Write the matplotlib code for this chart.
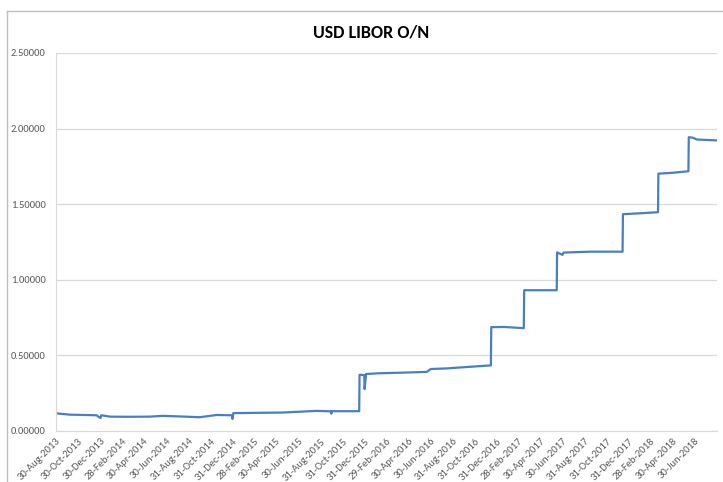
import matplotlib
matplotlib.use('Agg')
import matplotlib.pyplot as plt
from matplotlib.lines import Line2D
import pandas as pd

# values (percent)
dates = ['2013-08-30', '2013-09-20', '2013-10-08', '2013-11-15', '2013-12-20', '2013-12-31',
         '2014-01-02', '2014-01-27', '2014-03-14', '2014-05-16', '2014-06-20', '2014-08-01',
         '2014-10-01', '2014-11-17', '2014-12-30', '2014-12-31', '2015-01-02', '2015-03-02',
         '2015-05-18', '2015-08-20', '2015-09-29', '2015-09-30', '2015-10-01', '2015-12-16',
         '2015-12-17', '2015-12-30', '2015-12-31', '2016-01-04', '2016-02-10', '2016-04-15',
         '2016-06-20', '2016-07-01', '2016-08-15', '2016-10-07', '2016-12-14', '2016-12-15',
         '2017-01-20', '2017-03-15', '2017-03-16', '2017-06-14', '2017-06-15', '2017-06-30',
         '2017-07-03', '2017-09-15', '2017-12-13', '2017-12-14', '2018-02-01', '2018-03-21',
         '2018-03-22', '2018-05-01', '2018-06-13', '2018-06-14', '2018-06-25', '2018-07-06',
         '2018-08-01', '2018-08-31']
rates = [0.117, 0.112, 0.108, 0.106, 0.104, 0.085,
         0.104, 0.095, 0.094, 0.095, 0.100, 0.097,
         0.091, 0.106, 0.104, 0.080, 0.118, 0.120,
         0.122, 0.133, 0.130, 0.115, 0.131, 0.131,
         0.372, 0.370, 0.277, 0.377, 0.382, 0.386,
         0.391, 0.410, 0.414, 0.423, 0.434, 0.687,
         0.688, 0.680, 0.931, 0.931, 1.181, 1.165,
         1.180, 1.186, 1.186, 1.434, 1.440, 1.447,
         1.702, 1.708, 1.718, 1.943, 1.940, 1.928,
         1.925, 1.922]

tick_dates = ['2013-08-30', '2013-10-30', '2013-12-30', '2014-02-28', '2014-04-30', '2014-06-30',
              '2014-08-31', '2014-10-31', '2014-12-31', '2015-02-28', '2015-04-30', '2015-06-30',
              '2015-08-31', '2015-10-31', '2015-12-31', '2016-02-29', '2016-04-30', '2016-06-30',
              '2016-08-31', '2016-10-31', '2016-12-31', '2017-02-28', '2017-04-30', '2017-06-30',
              '2017-08-31', '2017-10-31', '2017-12-31', '2018-02-28', '2018-04-30', '2018-06-30']
tick_labels = [pd.Timestamp(d).strftime('%d-%b-%Y') for d in tick_dates]

y_ticks = [0.0, 0.5, 1.0, 1.5, 2.0, 2.5]

plt.rcParams['font.family'] = ['Carlito', 'Lato', 'DejaVu Sans']

fig = plt.figure(figsize=(7.23, 4.82), dpi=100)
ax = fig.add_axes([56 / 723, 51 / 482, 661 / 723, 378 / 482])

ax.plot(pd.to_datetime(dates), rates, color='#4A7EC4', linewidth=1.6)

ax.set_ylim(0, 2.5)
ax.set_yticks(y_ticks)
ax.set_yticklabels(['%.5f' % v for v in y_ticks])
ax.set_xlim(pd.Timestamp('2013-08-30'), pd.Timestamp('2018-08-31'))
ax.set_xticks(pd.to_datetime(tick_dates))
ax.set_xticklabels(tick_labels, rotation=45, ha='right', va='top', rotation_mode='anchor')

ax.grid(axis='y', color='#D9D9D9', linewidth=0.9)
ax.set_axisbelow(True)
for s in ['top', 'right']:
    ax.spines[s].set_visible(False)
ax.spines['left'].set_color('#D9D9D9')
ax.spines['bottom'].set_color('#D9D9D9')
ax.tick_params(length=0, colors='#595959')
ax.tick_params(axis='x', pad=4, labelsize=7.7)
ax.tick_params(axis='y', pad=7.5, labelsize=7.6)

fig.text(371 / 723, 1 - 32 / 482, 'USD LIBOR O/N', ha='center', va='center',
         fontsize=13, fontweight='bold', color='black')

# outer chart frame
fig.add_artist(Line2D([7 / 723, 7 / 723], [0, 1 - 11 / 482], color='#BFBFBF', linewidth=1))
fig.add_artist(Line2D([7 / 723, 1], [1 - 11 / 482, 1 - 11 / 482], color='#BFBFBF', linewidth=1))

fig.savefig('out.png', dpi=100)
